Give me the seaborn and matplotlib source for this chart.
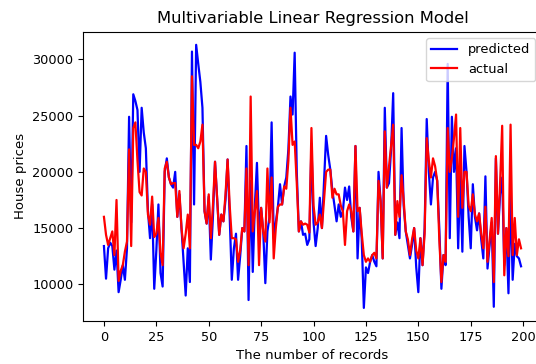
import matplotlib
matplotlib.use("Agg")
import matplotlib.pyplot as plt
import seaborn as sns
import pandas as pd

# house prices (thousands), records 0..199
predicted_k = [
    13.4, 10.5, 13.2, 13.7, 13.4, 11.3, 13.0, 9.3, 10.4, 11.7,
    10.4, 13.2, 24.9, 15.5, 26.9, 26.3, 25.5, 20.0, 25.7, 23.5,
    22.1, 16.5, 14.1, 17.1, 9.6, 13.0, 17.1, 11.0, 9.8, 20.0,
    21.2, 19.5, 18.9, 18.6, 20.0, 16.0, 18.0, 15.0, 12.0, 9.0,
    13.2, 10.2, 30.7, 17.1, 31.3, 29.6, 28.0, 25.7, 16.5, 15.4,
    17.8, 12.2, 16.0, 20.9, 17.7, 14.4, 16.2, 15.6, 17.5, 21.1,
    16.0, 10.4, 13.2, 14.5, 10.4, 12.5, 15.0, 14.7, 22.3, 8.6,
    19.2, 11.1, 17.0, 20.8, 14.7, 16.8, 14.7, 10.1, 14.7, 16.0,
    24.4, 14.1, 15.5, 16.9, 18.9, 17.1, 18.7, 19.5, 22.0, 26.7,
    25.1, 30.6, 20.0, 14.7, 15.6, 14.4, 14.5, 13.5, 14.0, 22.5,
    15.5, 13.4, 15.0, 17.7, 15.0, 19.0, 23.2, 21.5, 20.2, 18.3,
    17.0, 15.6, 17.1, 16.0, 16.5, 18.6, 17.5, 18.7, 16.0, 14.7,
    22.3, 12.3, 16.8, 14.0, 7.9, 11.5, 11.0, 12.0, 12.6, 12.0,
    11.6, 20.0, 17.4, 12.3, 25.7, 18.6, 19.0, 22.0, 27.0, 14.4,
    15.5, 14.1, 23.9, 17.0, 14.7, 13.5, 12.3, 13.5, 15.0, 11.5,
    9.3, 14.1, 11.7, 15.0, 24.7, 20.0, 17.1, 19.5, 20.0, 19.2,
    15.0, 9.6, 12.6, 11.7, 29.6, 14.1, 24.9, 20.0, 22.1, 13.2,
    20.0, 12.9, 22.3, 20.0, 16.0, 13.2, 18.9, 16.0, 14.8, 16.3,
    14.0, 12.3, 19.6, 11.4, 13.5, 15.5, 8.0, 21.2, 14.5, 18.0,
    19.5, 11.7, 15.0, 9.2, 18.0, 10.4, 13.6, 12.5, 12.3, 11.6,
]
actual_k = [
    16.0, 14.4, 13.5, 14.1, 14.7, 12.6, 17.5, 10.3, 11.2, 11.7,
    12.9, 13.8, 22.0, 13.4, 23.9, 24.4, 21.0, 18.2, 17.9, 20.3,
    20.0, 16.2, 15.3, 17.8, 14.2, 14.5, 15.9, 12.8, 11.7, 20.3,
    20.9, 19.5, 18.9, 19.0, 19.0, 16.0, 18.3, 15.0, 13.2, 14.5,
    16.2, 13.2, 28.5, 22.4, 22.4, 22.1, 22.7, 24.2, 16.5, 15.4,
    18.0, 14.1, 17.0, 20.9, 17.7, 14.4, 16.2, 15.6, 18.0, 21.1,
    17.0, 14.1, 14.1, 14.0, 12.0, 13.0, 15.0, 14.7, 20.3, 11.7,
    26.7, 14.7, 16.5, 18.3, 11.7, 16.8, 14.7, 13.8, 20.3, 15.5,
    19.5, 12.3, 15.0, 16.9, 17.1, 17.1, 18.7, 18.5, 21.0, 25.7,
    22.4, 22.7, 19.0, 14.7, 15.6, 15.3, 15.4, 15.3, 14.6, 23.9,
    17.0, 15.3, 15.5, 16.2, 15.0, 17.5, 20.0, 20.2, 20.2, 17.7,
    18.5, 18.0, 18.0, 17.0, 16.5, 13.5, 16.5, 17.1, 16.5, 14.7,
    22.3, 16.5, 16.8, 14.5, 12.6, 12.0, 12.3, 12.0, 12.6, 12.8,
    12.3, 19.2, 17.4, 12.3, 23.6, 18.6, 20.5, 22.5, 24.2, 14.4,
    17.4, 16.0, 19.7, 17.5, 14.7, 14.0, 12.6, 14.0, 15.0, 13.0,
    12.3, 14.1, 11.7, 14.5, 23.0, 21.0, 19.5, 21.2, 20.5, 19.2,
    14.0, 10.2, 12.6, 12.0, 23.9, 20.0, 21.2, 23.0, 25.1, 16.0,
    23.9, 16.8, 20.0, 20.0, 17.0, 16.5, 18.0, 16.2, 15.6, 16.3,
    14.5, 13.2, 16.9, 12.0, 14.0, 15.9, 10.2, 21.4, 14.5, 19.0,
    24.1, 10.8, 15.0, 12.5, 24.2, 12.6, 15.9, 12.6, 14.0, 13.2,
]
series_names = ["predicted", "actual"]
series_colors = ["blue", "red"]


def draw_graph() -> None:
    n = len(predicted_k)
    df = pd.DataFrame({
        "record": list(range(n)) * 2,
        "price": [v * 1000 for v in predicted_k + actual_k],
        "kind": [series_names[0]] * n + [series_names[1]] * n,
    })
    plt.rcParams["font.family"] = ["DejaVu Sans"]
    fig = plt.figure(figsize=(5.36, 3.64), dpi=100)
    # right edge of the axes runs a little past the image, as in the reference
    ax = fig.add_axes([0.155, 0.118, 0.856, 0.795])
    sns.lineplot(
        data=df, x="record", y="price", hue="kind",
        palette=dict(zip(series_names, series_colors)),
        linewidth=1.6, ax=ax
    )
    ax.set_xticks(range(0, 201, 25))
    ax.set_yticks([10000, 15000, 20000, 25000, 30000])
    ax.tick_params(labelsize=9.3)
    ax.set_xlabel("The number of records", fontsize=9.5)
    ax.set_ylabel("House prices", fontsize=9.5)
    ax.set_title("Multivariable Linear Regression Model", fontsize=11.8)
    ax.legend(loc="upper right", fontsize=9.4, title=None)
    fig.savefig("out.png", dpi=100)


if __name__ == "__main__":
    draw_graph()
